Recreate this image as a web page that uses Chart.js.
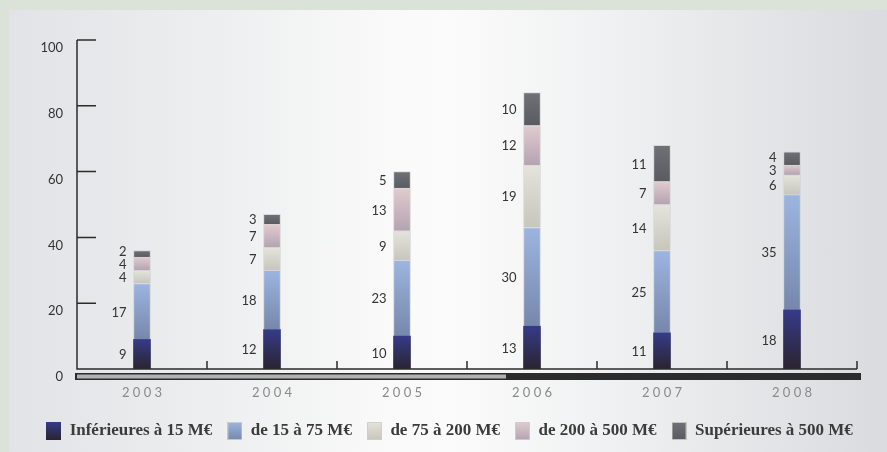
<!DOCTYPE html>
<html>
<head>
<meta charset="utf-8">
<script src="https://cdn.jsdelivr.net/npm/chart.js"></script>
<style>
  html, body { margin: 0; padding: 0; width: 887px; height: 452px; overflow: hidden; background: #dbe3d8; }
  #panel {
    position: absolute; left: 9px; top: 10px; right: 0; bottom: 0;
    background: linear-gradient(to right, #e2e3e6 0%, #eeeff0 25%, #f9f9f9 42%, #fbfbfb 50%, #f0f1f2 68%, #dadbde 100%);
  }
  #wrap { position: absolute; left: 0; top: 0; width: 887px; height: 452px; }
</style>
</head>
<body>
<div id="panel"></div>
<div id="wrap"><canvas id="chart"></canvas></div>
<script>
const years = ['2003', '2004', '2005', '2006', '2007', '2008'];
const under15 = [9, 12, 10, 13, 11, 18];
const from15to75 = [17, 18, 23, 30, 25, 35];
const from75to200 = [4, 7, 9, 19, 14, 6];
const from200to500 = [4, 7, 13, 12, 7, 3];
const over500 = [2, 3, 5, 10, 11, 4];
const seriesNames = ['Inférieures à 15 M€', 'de 15 à 75 M€', 'de 75 à 200 M€', 'de 200 à 500 M€', 'Supérieures à 500 M€'];

// top / bottom colour of each series gradient
const shades = [
  ['#363b88', '#2a2430'],
  ['#9cb5e0', '#7787ab'],
  ['#e4e4dc', '#c6c6bd'],
  ['#e1cbcf', '#b3a3b1'],
  ['#6f7177', '#595b61']
];

// vertical gradient spanning one stacked segment
function segmentFill(d) {
  const [top, bottom] = shades[d];
  return function (c) {
    const chart = c.chart;
    if (!chart.chartArea || c.type !== 'data') return bottom;
    const y = chart.scales.y;
    let start = 0;
    for (let k = 0; k < d; k++) start += chart.data.datasets[k].data[c.dataIndex];
    const end = start + c.raw;
    const g = chart.ctx.createLinearGradient(0, y.getPixelForValue(end), 0, y.getPixelForValue(start));
    g.addColorStop(0, top);
    g.addColorStop(1, bottom);
    return g;
  };
}

// little gradient squares for the legend
function swatch(d) {
  const cv = document.createElement('canvas');
  cv.width = 15; cv.height = 18;
  const x = cv.getContext('2d');
  const g = x.createLinearGradient(0, 0, 0, 18);
  g.addColorStop(0, shades[d][0]);
  g.addColorStop(1, shades[d][1]);
  x.fillStyle = g;
  x.fillRect(0, 0, 15, 18);
  if (d > 0) {
    x.strokeStyle = 'rgba(205,205,205,0.9)';
    x.strokeRect(0.5, 0.5, 14, 17);
  }
  return cv;
}

const seriesData = [under15, from15to75, from75to200, from200to500, over500];
const datasets = seriesData.map((vals, d) => ({
  label: seriesNames[d],
  data: vals,
  backgroundColor: segmentFill(d),
  borderColor: 'rgba(212,212,212,0.9)',
  borderWidth: d === 0 ? 0 : 1,
  borderSkipped: 'start',
  barThickness: 17
}));

// axis lines, inward ticks and the slider strip under the x axis
const axisDecor = {
  id: 'axisDecor',
  afterDatasetsDraw(chart) {
    const { ctx, chartArea: a, scales: { x, y } } = chart;
    const y0 = y.getPixelForValue(0);
    ctx.save();
    ctx.strokeStyle = '#2b2b2b';
    ctx.lineWidth = 1.5;
    ctx.beginPath();
    ctx.moveTo(a.left, y.getPixelForValue(100));
    ctx.lineTo(a.left, y0);
    ctx.lineTo(a.right, y0);
    y.ticks.forEach(t => {
      if (t.value <= 0) return;
      const py = y.getPixelForValue(t.value);
      ctx.moveTo(a.left, py);
      ctx.lineTo(a.left + 19, py);
    });
    for (let i = 1; i <= years.length; i++) {
      const px = x.getPixelForValue(i - 0.5);
      ctx.moveTo(px, y0);
      ctx.lineTo(px, y0 - 8);
    }
    ctx.stroke();

    // strip
    const sx = a.left - 2, sw = a.right - a.left + 6, sy = y0 + 4;
    ctx.fillStyle = '#2c2c2c';
    ctx.fillRect(sx, sy, sw, 7);
    ctx.fillStyle = '#b2b2b2';
    ctx.fillRect(sx + 2, sy + 1.5, (a.right - a.left) * 0.55, 4);
    ctx.restore();
  }
};

// segment values written to the left of each bar
const valueLabels = {
  id: 'valueLabels',
  afterDatasetsDraw(chart) {
    const ctx = chart.ctx;
    ctx.save();
    ctx.font = '13px Lato';
    ctx.fillStyle = '#333333';
    ctx.textAlign = 'right';
    ctx.textBaseline = 'middle';
    years.forEach((yr, i) => {
      let lastY = Infinity;
      chart.data.datasets.forEach((ds, d) => {
        const bar = chart.getDatasetMeta(d).data[i];
        let ty = (bar.y + bar.base) / 2 + 1;
        if (ty > lastY - 13) ty = lastY - 13;
        lastY = ty;
        ctx.fillText(String(ds.data[i]), bar.x - bar.width / 2 - 7, ty);
      });
    });
    ctx.restore();
  }
};

// nudge the legend row a bit to the right
const legendShift = {
  id: 'legendShift',
  afterLayout(chart) {
    chart.legend.left += 21;
    chart.legend.right += 21;
  }
};

new Chart(document.getElementById('chart'), {
  type: 'bar',
  data: { labels: years, datasets: datasets },
  plugins: [axisDecor, valueLabels, legendShift],
  options: {
    responsive: true,
    maintainAspectRatio: false,
    animation: false,
    layout: { padding: { top: 40, right: 30, bottom: 2.5, left: 0 } },
    scales: {
      x: {
        stacked: true,
        grid: { display: false, drawTicks: false },
        border: { display: false },
        ticks: {
          padding: 16,
          color: '#8a8a8a',
          font: { family: 'Lato', size: 13 },
          callback: (v) => years[v].split('').join(' ')
        },
        afterFit: (s) => { s.height = 38.5; }
      },
      y: {
        stacked: true,
        min: 0,
        max: 100,
        grid: { display: false, drawTicks: false },
        border: { display: false },
        ticks: {
          stepSize: 20,
          padding: 14,
          labelOffset: 8,
          color: '#333333',
          font: { family: 'Lato', size: 13 }
        },
        afterFit: (s) => { s.width = 77; }
      }
    },
    plugins: {
      tooltip: { enabled: false },
      legend: {
        position: 'bottom',
        labels: {
          usePointStyle: true,
          pointStyleWidth: 15,
          padding: 15,
          font: { family: 'Liberation Serif', size: 17, weight: 'bold' },
          generateLabels: (chart) => chart.data.datasets.map((ds, d) => ({
            text: ds.label,
            pointStyle: swatch(d),
            fillStyle: shades[d][1],
            strokeStyle: 'transparent',
            lineWidth: 0,
            fontColor: '#3b3b3b',
            hidden: false,
            datasetIndex: d
          }))
        }
      }
    }
  }
});
</script>
</body>
</html>
